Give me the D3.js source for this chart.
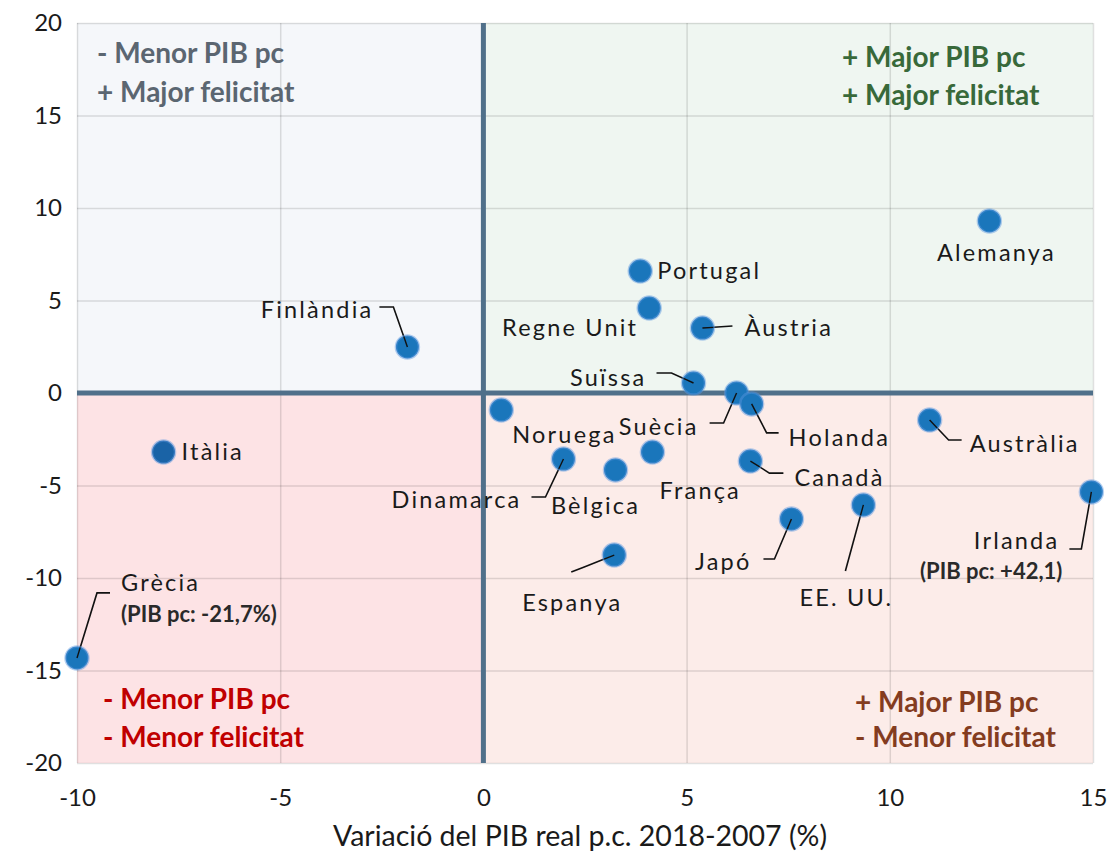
<!DOCTYPE html>
<html>
<head>
<meta charset="utf-8">
<script src="https://cdn.jsdelivr.net/npm/d3@7"></script>
<style>
  body { margin: 0; background: #fff; }
  text { font-family: Lato, 'Open Sans', sans-serif; }
</style>
</head>
<body>
<svg width="1109" height="858"></svg>
<script>
// data
let countries = ['Alemanya', 'Portugal', 'Regne Unit', 'Àustria', 'Finlàndia', 'Suïssa', 'Suècia',
  'Holanda', 'Noruega', 'Dinamarca', 'Bèlgica', 'França', 'Canadà', 'Austràlia', 'Irlanda',
  'EE. UU.', 'Japó', 'Espanya', 'Itàlia', 'Grècia'];
let pibChange = [12.45, 3.86, 4.08, 5.39, -1.87, 5.17, 6.23, 6.60, 0.44, 1.97, 3.25, 4.16, 6.57,
  10.98, 14.96, 9.35, 7.58, 3.22, -7.87, -10.0];
let happyChange = [9.3, 6.59, 4.59, 3.51, 2.49, 0.54, 0.0, -0.59, -0.92, -3.57, -4.16, -3.19, -3.68,
  -1.46, -5.35, -6.05, -6.81, -8.76, -3.19, -14.32];
let notes = { 'Irlanda': '(PIB pc: +42,1)', 'Grècia': '(PIB pc: -21,7%)' };
let xTicks = [-10, -5, 0, 5, 10, 15];
let yTicks = [-20, -15, -10, -5, 0, 5, 10, 15, 20];
let quadrants = [
  { lines: ['- Menor PIB pc', '+ Major felicitat'], color: '#5b6671' },
  { lines: ['+ Major PIB pc', '+ Major felicitat'], color: '#38693a' },
  { lines: ['- Menor PIB pc', '- Menor felicitat'], color: '#c00000' },
  { lines: ['+ Major PIB pc', '- Menor felicitat'], color: '#843c1f' },
];

// label placement (pixel offsets from the dot)
let labelPos = {
  'Alemanya': { dx: 7, dy: 32, a: 'middle' },
  'Portugal': { dx: 17, dy: 0, a: 'start' },
  'Regne Unit': { dx: -11, dy: 20, a: 'end' },
  'Àustria': { dx: 42, dy: 0, a: 'start', lead: [[0, 0], [30, -2]] },
  'Finlàndia': { dx: -34, dy: -37, a: 'end', lead: [[0, 0], [-14, -40], [-28, -40]] },
  'Suïssa': { dx: -47, dy: -5, a: 'end', lead: [[0, 0], [-22, -10], [-37, -10]] },
  'Suècia': { dx: -38, dy: 34, a: 'end', lead: [[0, 0], [-13, 30], [-27, 30]] },
  'Holanda': { dx: 37, dy: 34, a: 'start', lead: [[0, 0], [15, 29], [27, 29]] },
  'Noruega': { dx: 11, dy: 25, a: 'start' },
  'Dinamarca': { dx: -42, dy: 41, a: 'end', lead: [[0, 0], [-18, 38], [-32, 38]] },
  'Bèlgica': { dx: -20, dy: 36, a: 'middle' },
  'França': { dx: 7, dy: 39, a: 'start' },
  'Canadà': { dx: 44, dy: 17, a: 'start', lead: [[0, 0], [19, 12], [33, 12]] },
  'Austràlia': { dx: 40, dy: 24, a: 'start', lead: [[0, 0], [19, 20], [32, 20]] },
  'Irlanda': { dx: -32, dy: 49, a: 'end', lead: [[0, 0], [-10, 57], [-22, 57]], ndx: -29, ndy: 79 },
  'EE. UU.': { dx: -17, dy: 93, a: 'middle', lead: [[0, 0], [-18, 66]] },
  'Japó': { dx: -40, dy: 43, a: 'end', lead: [[0, 0], [-17, 40], [-28, 40]] },
  'Espanya': { dx: -42, dy: 48, a: 'middle', lead: [[0, 0], [-30, 12], [-43, 17]] },
  'Itàlia': { dx: 18, dy: 0, a: 'start' },
  'Grècia': { dx: 44, dy: -75, a: 'start', lead: [[0, 0], [20, -65], [33, -65]], ndx: 44, ndy: -44 },
};

let svg = d3.select('svg');
let marge = { top: 23, right: 16, bottom: 95, left: 77 };
let width = +svg.attr('width') - marge.left - marge.right;
let height = +svg.attr('height') - marge.top - marge.bottom;
let g = svg.append('g')
  .attr('transform', 'translate(' + marge.left + ',' + marge.top + ')');

let x = d3.scaleLinear().domain([-10, 15]).range([0, width]);
let y = d3.scaleLinear().domain([-20, 20]).range([height, 0]);
let fmt = function(d) { return String(d); };

// quadrant backgrounds
let bg = [
  { x0: -10, x1: 0, y0: 0, y1: 20, fill: '#f5f7fa' },
  { x0: 0, x1: 15, y0: 0, y1: 20, fill: '#eff6f1' },
  { x0: -10, x1: 0, y0: -20, y1: 0, fill: '#fde3e5' },
  { x0: 0, x1: 15, y0: -20, y1: 0, fill: '#fcece9' },
];
g.append('g').selectAll('rect')
  .data(bg)
  .enter()
  .append('rect')
  .attr('x', function(d) { return x(d.x0); })
  .attr('y', function(d) { return y(d.y1); })
  .attr('width', function(d) { return x(d.x1) - x(d.x0); })
  .attr('height', function(d) { return y(d.y0) - y(d.y1); })
  .attr('fill', function(d) { return d.fill; });

// gridlines
g.append('g')
  .call(d3.axisLeft(y).tickValues(yTicks).tickSize(-width).tickFormat(''))
  .call(function(a) {
    a.select('.domain').remove();
    a.selectAll('line').attr('stroke', 'rgba(0,0,0,0.12)').attr('stroke-width', 1.5);
  });
g.append('g')
  .attr('transform', 'translate(0,' + height + ')')
  .call(d3.axisBottom(x).tickValues(xTicks).tickSize(-height).tickFormat(''))
  .call(function(a) {
    a.select('.domain').remove();
    a.selectAll('line').attr('stroke', 'rgba(0,0,0,0.12)').attr('stroke-width', 1.5);
  });

// tick labels
g.append('g')
  .call(d3.axisLeft(y).tickValues(yTicks).tickFormat(fmt).tickSize(0).tickPadding(15))
  .call(function(a) {
    a.select('.domain').remove();
    a.selectAll('text').attr('font-size', 24).attr('fill', '#1a1a1a')
      .style('font-family', 'Lato, sans-serif');
  });
g.append('g')
  .attr('transform', 'translate(0,' + height + ')')
  .call(d3.axisBottom(x).tickValues(xTicks).tickFormat(fmt).tickSize(0).tickPadding(26))
  .call(function(a) {
    a.select('.domain').remove();
    a.selectAll('text').attr('font-size', 24).attr('fill', '#1a1a1a')
      .style('font-family', 'Lato, sans-serif');
  });

// zero axes
g.append('line')
  .attr('x1', x(0)).attr('x2', x(0))
  .attr('y1', 0).attr('y2', height)
  .attr('stroke', '#50708a').attr('stroke-width', 5);
g.append('line')
  .attr('x1', 0).attr('x2', width)
  .attr('y1', y(0)).attr('y2', y(0))
  .attr('stroke', '#50708a').attr('stroke-width', 5);

// quadrant captions
let qpos = [
  { x: 20, y: 30, gap: 39 },
  { x: 765, y: 34, gap: 38 },
  { x: 26, y: 676, gap: 38 },
  { x: 778, y: 679, gap: 35 },
];
quadrants.forEach(function(q, i) {
  let t = g.append('text')
    .attr('x', qpos[i].x)
    .attr('y', qpos[i].y)
    .attr('font-size', 28)
    .attr('font-weight', 'bold')
    .attr('fill', q.color);
  q.lines.forEach(function(l, j) {
    t.append('tspan')
      .attr('x', qpos[i].x)
      .attr('dy', j == 0 ? '0.35em' : qpos[i].gap)
      .text(l);
  });
});

// points
let pts = countries.map(function(c, i) {
  return { name: c, px: x(pibChange[i]), py: y(happyChange[i]) };
});

let lineGen = d3.line();
g.append('g').selectAll('path')
  .data(pts.filter(function(d) { return labelPos[d.name].lead; }))
  .enter()
  .append('path')
  .attr('d', function(d) {
    return lineGen(labelPos[d.name].lead.map(function(p) { return [d.px + p[0], d.py + p[1]]; }));
  })
  .attr('fill', 'none')
  .attr('stroke', '#111')
  .attr('stroke-width', 1.6);

g.append('g').selectAll('circle')
  .data(pts)
  .enter()
  .append('circle')
  .attr('cx', function(d) { return d.px; })
  .attr('cy', function(d) { return d.py; })
  .attr('r', 11.5)
  .attr('fill', function(d) { return d.name == 'Itàlia' ? '#1a63a6' : '#1a76bb'; })
  .attr('stroke', 'rgba(90,150,225,0.45)')
  .attr('stroke-width', 2.5);

// leader tails drawn again over dots (line continues into dot center)
g.append('g').selectAll('path')
  .data(pts.filter(function(d) { return labelPos[d.name].lead; }))
  .enter()
  .append('path')
  .attr('d', function(d) {
    let p = labelPos[d.name].lead;
    let a = p[0], b = p[1];
    let len = Math.sqrt((b[0] - a[0]) * (b[0] - a[0]) + (b[1] - a[1]) * (b[1] - a[1]));
    let k = Math.min(1, 11 / len);
    return lineGen([[d.px, d.py], [d.px + b[0] * k, d.py + b[1] * k]]);
  })
  .attr('stroke', '#111')
  .attr('stroke-width', 1.4);

g.append('g').selectAll('text')
  .data(pts)
  .enter()
  .append('text')
  .attr('x', function(d) { return d.px + labelPos[d.name].dx; })
  .attr('y', function(d) { return d.py + labelPos[d.name].dy; })
  .attr('dy', '0.35em')
  .attr('text-anchor', function(d) { return labelPos[d.name].a; })
  .attr('font-size', 23.5)
  .attr('letter-spacing', 2.2)
  .attr('fill', '#1a1a1a')
  .text(function(d) { return d.name; });

g.append('g').selectAll('text')
  .data(pts.filter(function(d) { return notes[d.name]; }))
  .enter()
  .append('text')
  .attr('x', function(d) { return d.px + labelPos[d.name].ndx; })
  .attr('y', function(d) { return d.py + labelPos[d.name].ndy; })
  .attr('dy', '0.35em')
  .attr('text-anchor', function(d) { return labelPos[d.name].a; })
  .attr('font-size', 22)
  .attr('font-weight', 'bold')
  .attr('fill', '#2a2a2a')
  .text(function(d) { return notes[d.name]; });

// axis title
svg.append('text')
  .attr('x', 580)
  .attr('y', 836)
  .attr('dy', '0.35em')
  .attr('text-anchor', 'middle')
  .attr('font-size', 28.5)
  .attr('fill', '#1a1a1a')
  .text('Variació del PIB real p.c. 2018-2007 (%)');
</script>
</body>
</html>
